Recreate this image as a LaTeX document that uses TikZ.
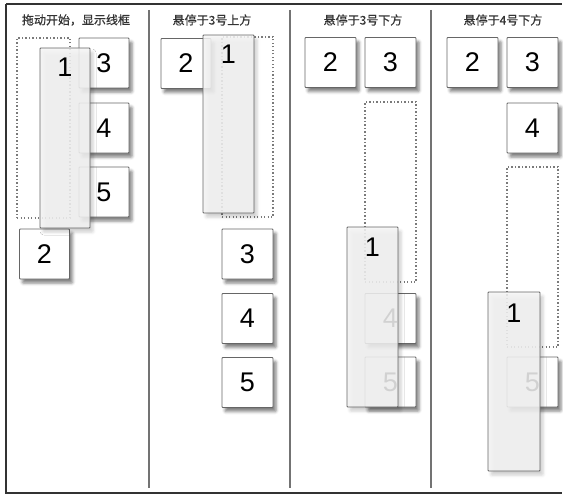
\documentclass[tikz,border=0pt]{standalone}
\usepackage{fontspec}
\setmainfont{Liberation Sans}
\newfontfamily\cjk[FakeBold=0.6]{Noto Sans CJK SC}
\usetikzlibrary{shadows.blur}
\definecolor{edge}{HTML}{666666}
\definecolor{ghostc}{HTML}{7A7A7A}
\definecolor{dragfill}{HTML}{F4F4F4}
\begin{document}
\begin{tikzpicture}[x=1pt,y=-1pt,
  card/.style={draw=edge, line width=0.9pt, fill=white, rounded corners=0.8pt,
    minimum width=50pt, minimum height=50pt, inner sep=0pt,
    font=\fontsize{27}{27}\selectfont,
    blur shadow={shadow xshift=3pt, shadow yshift=-4pt, shadow blur radius=3pt, shadow opacity=50}},
  drag/.style={draw=edge, line width=0.9pt, fill=dragfill, fill opacity=0.86, rounded corners=0.8pt,
    minimum width=51pt, minimum height=180pt, inner sep=0pt,
    blur shadow={shadow xshift=3pt, shadow yshift=-4pt, shadow blur radius=3pt, shadow opacity=22}},
  dragnum/.style={font=\fontsize{27}{27}\selectfont, inner sep=0pt, text=black},
  ghost/.style={draw=ghostc, line width=1.3pt, dash pattern=on 1.4pt off 2.1pt,
    minimum width=51pt, minimum height=180pt, inner sep=0pt},
  title/.style={font=\cjk\fontsize{12}{12}\selectfont, text=black!80, inner sep=0pt},
  divider/.style={draw=black!55, line width=1.1pt},
  frame/.style={draw=black!80, line width=1.6pt}
]
\useasboundingbox (0,0) rectangle (563,495);
\draw[frame] (6,4) -- (562,4);
\draw[frame] (6,4) -- (6,493) -- (562,493);

% dividers
\draw[divider] (149,10) -- (149,488);
\draw[divider] (290,10) -- (290,488);
\draw[divider] (431,10) -- (431,488);

% titles
\node[title] (t1) at (76,20) {拖动开始，显示线框};
\node[title] (t2) at (212,20) {悬停于3号上方};
\node[title] (t3) at (363,20) {悬停于3号下方};
\node[title] (t4) at (503,20) {悬停于4号下方};

% column 1
\node[ghost, minimum width=53pt] (g1) at (43.5,128) {};
\node[card] (a3) at (104,63) {3};
\node[card] (a4) at (104,128) {4};
\node[card] (a5) at (104,192) {5};
\node[card] (a2) at (44.5,254) {2};
\node[drag, minimum width=50pt] (a1) at (65,138) {};
\node[dragnum] (a1n) at ([yshift=-20pt]a1.north) {1};

% column 2
\node[card] (b2) at (186,63.5) {2};
\node[ghost] (g2) at (247.5,127) {};
\node[drag, minimum height=178pt] (b1) at (228.5,124) {};
\node[dragnum] (b1n) at ([yshift=-20pt]b1.north) {1};
\node[card, minimum width=51pt] (b3) at (247.5,254) {3};
\node[card, minimum width=51pt] (b4) at (247.5,318.5) {4};
\node[card, minimum width=51pt] (b5) at (247.5,382.5) {5};

% column 3
\node[card, minimum width=51pt] (c2) at (330.5,62.5) {2};
\node[card, minimum width=51pt] (c3) at (390.5,62.5) {3};
\node[ghost] (g3) at (390.5,192) {};
\node[card, minimum width=51pt] (c4) at (390.5,318.5) {4};
\node[card, minimum width=51pt] (c5) at (390.5,382) {5};
\node[drag] (c1) at (372.5,317) {};
\node[dragnum] (c1n) at ([yshift=-21pt]c1.north) {1};

% column 4
\node[card, minimum width=51pt] (d2) at (472.5,62.5) {2};
\node[card, minimum width=51pt] (d3) at (532.5,62.5) {3};
\node[card, minimum width=51pt] (d4) at (532.5,128) {4};
\node[ghost] (g4) at (532.5,257) {};
\node[card, minimum width=51pt] (d5) at (532.5,382) {5};
\node[drag, minimum width=52pt, minimum height=179pt] (d1) at (514,381.5) {};
\node[dragnum] (d1n) at ([yshift=-22pt]d1.north) {1};
\end{tikzpicture}
\end{document}
